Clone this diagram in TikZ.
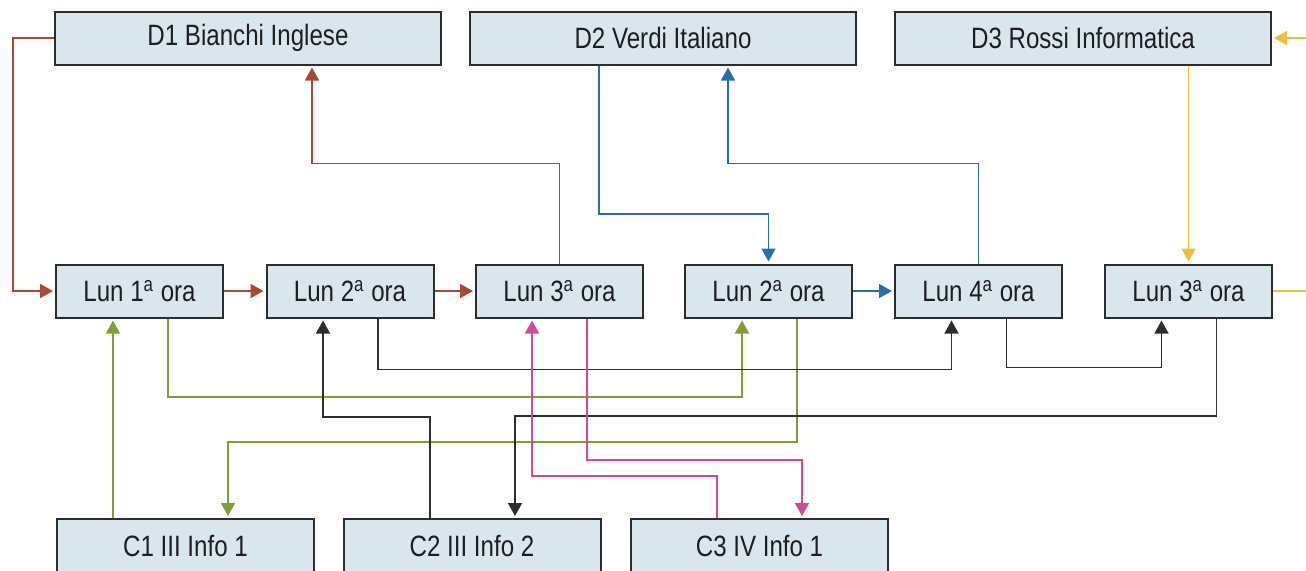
\documentclass[tikz,border=0pt]{standalone}
\usepackage{fontspec}
\setmainfont{Liberation Sans}[FakeStretch=0.82]
\usetikzlibrary{arrows.meta}

\definecolor{boxfill}{RGB}{218,230,238}
\definecolor{boxline}{RGB}{45,45,45}
\definecolor{textcol}{RGB}{30,30,30}
\definecolor{bianchi}{RGB}{170,72,50}
\definecolor{verdi}{RGB}{40,110,170}
\definecolor{rossi}{RGB}{240,190,60}
\definecolor{infoone}{RGB}{128,158,52}
\definecolor{infotwo}{RGB}{45,45,45}
\definecolor{infothree}{RGB}{212,72,150}

\begin{document}
\begin{tikzpicture}[x=0.5pt, y=-0.5pt, line width=0.75pt,
  box/.style={draw=boxline, fill=boxfill, line width=1pt, text=textcol,
    inner sep=0pt, font=\fontsize{14.7pt}{17pt}\selectfont},
  teacher/.style={box, minimum width=193pt, minimum height=26.5pt},
  lesson/.style={box, minimum width=83.5pt, minimum height=26.5pt},
  class/.style={box, minimum width=128.5pt, minimum height=26.5pt},
  link/.style={-{Triangle[length=6.5pt, width=7pt]}, shorten >=1pt}]
  \useasboundingbox (0,0) rectangle (1306,570);
  % teachers
  \node[teacher] (d1) at (248,38) {D1 Bianchi Inglese};
  \node[teacher] (d2) at (663,38) {D2 Verdi Italiano};
  \node[teacher, minimum width=188pt] (d3) at (1083,38) {D3 Rossi Informatica};
  % lessons
  \node[lesson] (lun1)  at (139.5,291) {Lun 1\textsuperscript{a} ora};
  \node[lesson] (lun2)  at (350,291)   {Lun 2\textsuperscript{a} ora};
  \node[lesson] (lun3)  at (559.5,291) {Lun 3\textsuperscript{a} ora};
  \node[lesson] (lun2b) at (768.5,291) {Lun 2\textsuperscript{a} ora};
  \node[lesson] (lun4)  at (978.5,291) {Lun 4\textsuperscript{a} ora};
  \node[lesson] (lun3b) at (1188.5,291) {Lun 3\textsuperscript{a} ora};
  % classes
  \node[class] (c1) at (185.5,545.5) {C1 III Info 1};
  \node[class] (c2) at (472,545.5)   {C2 III Info 2};
  \node[class] (c3) at (759.5,545.5) {C3 IV Info 1};
  \coordinate (rin)  at (1306,38);
  \coordinate (rout) at (1306,291);

  % Bianchi
  \draw[link, bianchi] (d1.west) -- ++(-41,0) |- (lun1.west);
  \draw[link, bianchi] (lun1.east) -- (lun2.west);
  \draw[link, bianchi] (lun2.east) -- (lun3.west);
  \draw[link, bianchi] (lun3.north) -- ++(0,-100) -| ([xshift=32pt]d1.south);
  % Verdi
  \draw[link, verdi] ([xshift=-32pt]d2.south) -- ++(0,148.5) -| (lun2b.north);
  \draw[link, verdi] (lun2b.east) -- (lun4.west);
  \draw[link, verdi] (lun4.north) -- ++(0,-100) -| ([xshift=32.5pt]d2.south);
  % Rossi
  \draw[link, rossi] (rin) -- (d3.east);
  \draw[link, rossi] (lun3b.north |- d3.south) -- (lun3b.north);
  \draw[rossi] (lun3b.east) -- (rout);
  % C1
  \draw[link, infoone] ([xshift=-36.25pt]c1.north) -- ([xshift=-13.25pt]lun1.south);
  \draw[link, infoone] ([xshift=14.25pt]lun1.south) -- ++(0,78.5) -| ([xshift=-13.25pt]lun2b.south);
  \draw[link, infoone] ([xshift=14.25pt]lun2b.south) -- ++(0,123.5) -| ([xshift=21.25pt]c1.north);
  % C2
  \draw[link, infotwo] ([xshift=-21pt]c2.north) -- ++(0,-101) -| ([xshift=-13.5pt]lun2.south);
  \draw[link, infotwo] ([xshift=14pt]lun2.south) -- ++(0,51) -| ([xshift=-13.5pt]lun4.south);
  \draw[link, infotwo] ([xshift=14pt]lun4.south) -- ++(0,49) -| ([xshift=-13.5pt]lun3b.south);
  \draw[link, infotwo] ([xshift=14pt]lun3b.south) -- ++(0,97.5) -| ([xshift=21.5pt]c2.north);
  % C3
  \draw[link, infothree] ([xshift=-21.25pt]c3.north) -- ++(0,-42) -| ([xshift=-13.75pt]lun3.south);
  \draw[link, infothree] ([xshift=13.75pt]lun3.south) -- ++(0,141.5) -| ([xshift=21.25pt]c3.north);
\end{tikzpicture}
\end{document}
